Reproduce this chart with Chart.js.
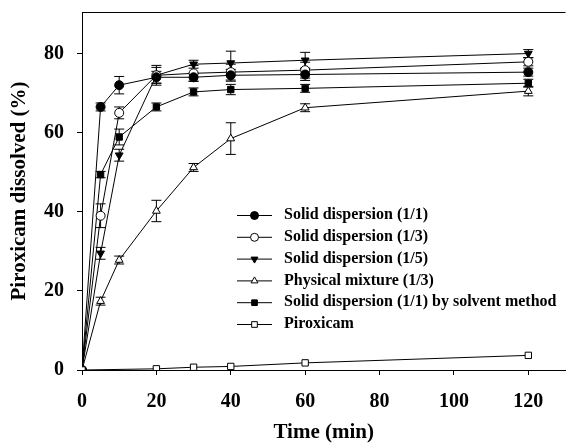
<!DOCTYPE html>
<html>
<head>
<meta charset="utf-8">
<script src="https://cdn.jsdelivr.net/npm/chart.js@4/dist/chart.umd.min.js"></script>
<style>
  html, body { margin: 0; padding: 0; background: #fff; }
  #wrap { width: 571px; height: 447px; }
</style>
</head>
<body>
<div id="wrap"><canvas id="dissolution" width="571" height="447"></canvas></div>
<script>
// sampling times (min)
const times = [0, 5, 10, 20, 30, 40, 60, 120];

// % piroxicam dissolved
const sd11 = [0, 66.5, 72, 74, 74, 74.5, 74.7, 75.3];
const sd13 = [0, 39, 65, 74.5, 75, 75.3, 75.8, 77.9];
const sd15 = [0, 29.5, 54.3, 74.5, 77.3, 77.6, 78.3, 80];
const pm13 = [0, 17.4, 27.8, 40.2, 51.2, 58.5, 66.3, 70.5];
const sd11Solvent = [0, 49.4, 58.9, 66.5, 70.3, 70.9, 71.2, 72.5];
const piroxicam = [0, null, null, 0.3, 0.7, 0.9, 1.8, 3.7];

// error bars (+/-)
const sd11Err = [0, 1, 2.2, 1.5, 1, 1.5, 1.5, 1];
const sd13Err = [0, 3, 1.5, 2, 2, 2, 2, 1];
const sd15Err = [0, 1.5, 1.5, 2.5, 1, 3, 2, 1];
const pm13Err = [0, 1, 1, 2.7, 1, 4, 1, 1.2];
const sd11SolventErr = [0, 0.8, 2, 1, 1, 1.3, 1, 1];
const piroxicamErr = [0, 0, 0, 0, 0, 0, 0, 0];

const xTicks = [0, 20, 40, 60, 80, 100, 120];
const yTicks = [0, 20, 40, 60, 80];

const serif = "'Liberation Serif', 'Times New Roman', serif";

function pts(vals, errs) {
    return times.map((t, i) => ({ x: t, y: vals[i], err: errs[i] }))
        .filter(p => p.y !== null);
}

function series(label, vals, errs, style, filled, rotation) {
    return {
        label: label,
        data: pts(vals, errs),
        borderColor: '#000',
        borderWidth: 1,
        pointStyle: style,
        pointRotation: rotation || 0,
        pointRadius: 4.5,
        pointBorderWidth: 1,
        pointBorderColor: '#000',
        pointBackgroundColor: filled ? '#000' : '#fff',
        tension: 0,
        spanGaps: true,
        fill: false
    };
}

const datasets = [
    series('Solid dispersion (1/1)', sd11, sd11Err, 'circle', true),
    series('Solid dispersion (1/3)', sd13, sd13Err, 'circle', false),
    series('Solid dispersion (1/5)', sd15, sd15Err, 'triangle', true, 180),
    series('Physical mixture (1/3)', pm13, pm13Err, 'triangle', false),
    series('Solid dispersion (1/1) by solvent method', sd11Solvent, sd11SolventErr, 'rect', true),
    series('Piroxicam', piroxicam, piroxicamErr, 'rect', false)
];
datasets[5].order = -1; // open square sits on top at the origin

// vertical error bars with caps
const errorBars = {
    id: 'errorBars',
    beforeDatasetsDraw(chart) {
        const ctx = chart.ctx;
        const ys = chart.scales.y;
        ctx.save();
        ctx.strokeStyle = '#000';
        ctx.lineWidth = 1;
        chart.data.datasets.forEach((ds, di) => {
            const meta = chart.getDatasetMeta(di);
            meta.data.forEach((el, i) => {
                const p = ds.data[i];
                if (!p.err) return;
                const top = ys.getPixelForValue(p.y + p.err);
                const bot = ys.getPixelForValue(p.y - p.err);
                ctx.beginPath();
                ctx.moveTo(el.x, top); ctx.lineTo(el.x, bot);
                ctx.moveTo(el.x - 5, top); ctx.lineTo(el.x + 5, top);
                ctx.moveTo(el.x - 5, bot); ctx.lineTo(el.x + 5, bot);
                ctx.stroke();
            });
        });
        ctx.restore();
    }
};

// top frame line + legend inside the plot
const frameAndLegend = {
    id: 'frameAndLegend',
    afterDraw(chart) {
        const ctx = chart.ctx;
        const a = chart.chartArea;
        ctx.save();
        ctx.strokeStyle = '#000';
        ctx.lineWidth = 1;
        ctx.beginPath();
        ctx.moveTo(a.left, a.top + 0.5);
        ctx.lineTo(a.right, a.top + 0.5);
        ctx.stroke();

        const x0 = 237, x1 = 272, xt = 284;
        let y = 215;
        ctx.font = 'bold 16px ' + serif;
        ctx.textBaseline = 'middle';
        chart.data.datasets.forEach((ds) => {
            ctx.strokeStyle = '#000';
            ctx.beginPath();
            ctx.moveTo(x0, y + 0.5);
            ctx.lineTo(x1, y + 0.5);
            ctx.stroke();
            ctx.fillStyle = ds.pointBackgroundColor;
            Chart.helpers.drawPoint(ctx, {
                pointStyle: ds.pointStyle,
                rotation: ds.pointRotation,
                radius: 4,
                borderWidth: 1
            }, (x0 + x1) / 2, y + 0.5);
            ctx.fillStyle = '#000';
            ctx.fillText(ds.label, xt, y);
            y += 21.8;
        });
        ctx.restore();
    }
};

new Chart(document.getElementById('dissolution'), {
    type: 'line',
    data: { datasets: datasets },
    plugins: [errorBars, frameAndLegend],
    options: {
        responsive: false,
        animation: false,
        layout: { padding: { top: 12, right: 0, left: 0, bottom: 0 } },
        plugins: {
            legend: { display: false },
            tooltip: { enabled: false }
        },
        scales: {
            x: {
                type: 'linear',
                min: 0,
                max: 130,
                afterBuildTicks: s => { s.ticks = xTicks.map(v => ({ value: v })); },
                afterFit: s => { s.height = 77; s.paddingLeft = 0; s.paddingRight = 0; },
                grid: { drawOnChartArea: false, color: '#000', tickLength: 5 },
                border: { color: '#000', width: 1 },
                ticks: { color: '#000', padding: 15, maxRotation: 0,
                         font: { family: serif, size: 20, weight: 'bold' } },
                title: { display: true, text: 'Time (min)', color: '#000',
                         padding: { top: 4, bottom: 2 },
                         font: { family: serif, size: 21, weight: 'bold' } }
            },
            y: {
                min: 0,
                max: 90.5,
                afterBuildTicks: s => { s.ticks = yTicks.map(v => ({ value: v })); },
                afterFit: s => { s.width = 82; s.paddingTop = 0; s.paddingBottom = 0; },
                grid: { drawOnChartArea: false, color: '#000', tickLength: 5 },
                border: { color: '#000', width: 1 },
                ticks: { color: '#000', padding: 13,
                         font: { family: serif, size: 20, weight: 'bold' } },
                title: { display: true, text: 'Piroxicam dissolved (%)', color: '#000',
                         padding: { top: 7, bottom: 4 },
                         font: { family: serif, size: 21, weight: 'bold' } }
            }
        }
    }
});
</script>
</body>
</html>
